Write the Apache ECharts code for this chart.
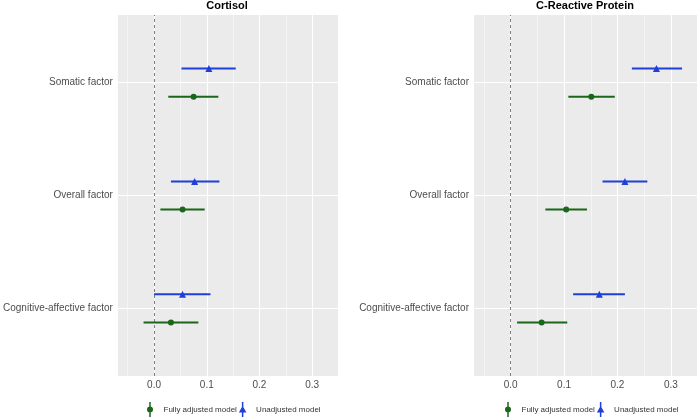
<!DOCTYPE html>
<html>
<head>
<meta charset="utf-8">
<script src="https://cdn.jsdelivr.net/npm/echarts@6/dist/echarts.min.js"></script>
<style>
  html, body { margin: 0; padding: 0; background: #ffffff; }
  #chart { width: 699px; height: 419px; }
</style>
</head>
<body>
<div id="chart"></div>
<script>
// factors, top to bottom
var factors = ['Somatic factor', 'Overall factor', 'Cognitive-affective factor'];
var xTicks = [0, 0.1, 0.2, 0.3];
var xMinor = [-0.05, 0.05, 0.15, 0.25];

// Cortisol
var cortAdjEst = [0.075, 0.054, 0.032];
var cortAdjLo = [0.027, 0.012, -0.020];
var cortAdjHi = [0.122, 0.096, 0.084];
var cortUnadjEst = [0.104, 0.077, 0.054];
var cortUnadjLo = [0.052, 0.032, 0.000];
var cortUnadjHi = [0.155, 0.124, 0.107];

// C-Reactive Protein
var crpAdjEst = [0.151, 0.104, 0.058];
var crpAdjLo = [0.108, 0.065, 0.012];
var crpAdjHi = [0.195, 0.143, 0.106];
var crpUnadjEst = [0.273, 0.214, 0.166];
var crpUnadjLo = [0.227, 0.172, 0.117];
var crpUnadjHi = [0.321, 0.256, 0.214];

var green = '#1b661b';
var blue = '#1f3fd8';
var dodge = 0.125;
var font = 'Liberation Sans, Arial, sans-serif';

function yPos(i){ return factors.length - 1 - i; }

function pointData(est, off){
  var out = [];
  for(var i=0;i<est.length;i++){
    out.push([est[i], yPos(i) + off]);
  }
  return out;
}

function barData(lo, hi, off){
  var out = [];
  for(var i=0;i<lo.length;i++){
    out.push([lo[i], hi[i], yPos(i) + off]);
  }
  return out;
}

function renderBar(params, api){
  var a = api.coord([api.value(0), api.value(2)]);
  var b = api.coord([api.value(1), api.value(2)]);
  return {
    type: 'line',
    shape: {x1: a[0], y1: a[1], x2: b[0], y2: b[1]},
    style: {stroke: api.visual('color'), lineWidth: 2}
  };
}

function gridLines(idx){
  var lines = [];
  for(var i=0;i<xMinor.length;i++){
    lines.push({xAxis: xMinor[i], lineStyle: {color: '#ffffff', width: 0.5, type: 'solid'}});
  }
  for(var i=0;i<xTicks.length;i++){
    lines.push({xAxis: xTicks[i], lineStyle: {color: '#ffffff', width: 1.1, type: 'solid'}});
  }
  for(var i=0;i<factors.length;i++){
    lines.push({yAxis: yPos(i), lineStyle: {color: '#ffffff', width: 1.1, type: 'solid'}});
  }
  return [
    {type: 'line', xAxisIndex: idx, yAxisIndex: idx, data: [], z: 1, silent: true,
      markLine: {z: 1, silent: true, symbol: 'none', label: {show: false}, animation: false, data: lines}},
    {type: 'line', xAxisIndex: idx, yAxisIndex: idx, data: [], z: 2, silent: true,
      markLine: {z: 2, silent: true, symbol: 'none', label: {show: false}, animation: false,
        data: [{xAxis: 0, lineStyle: {color: '#808080', width: 1, type: [3, 3]}}]}}
  ];
}

function panelSeries(idx, adjEst, adjLo, adjHi, unEst, unLo, unHi){
  var s = gridLines(idx);
  s.push({name: 'Fully adjusted model', type: 'custom', xAxisIndex: idx, yAxisIndex: idx, z: 3,
    itemStyle: {color: green}, renderItem: renderBar, encode: {x: [0, 1], y: 2},
    data: barData(adjLo, adjHi, -dodge)});
  s.push({name: 'Unadjusted model', type: 'custom', xAxisIndex: idx, yAxisIndex: idx, z: 3,
    itemStyle: {color: blue}, renderItem: renderBar, encode: {x: [0, 1], y: 2},
    data: barData(unLo, unHi, dodge)});
  s.push({name: 'Fully adjusted model', type: 'scatter', xAxisIndex: idx, yAxisIndex: idx, z: 4,
    symbol: 'circle', symbolSize: 6, itemStyle: {color: green, opacity: 1},
    data: pointData(adjEst, -dodge)});
  s.push({name: 'Unadjusted model', type: 'scatter', xAxisIndex: idx, yAxisIndex: idx, z: 4,
    symbol: 'triangle', symbolSize: 7, itemStyle: {color: blue, opacity: 1},
    data: pointData(unEst, dodge)});
  return s;
}

function xAxisFor(idx){
  return {
    type: 'value', gridIndex: idx, min: -0.0687, max: 0.349,
    axisLine: {show: false},
    splitLine: {show: false},
    axisTick: {show: true, customValues: xTicks, length: 3, lineStyle: {color: '#333333', width: 0.8}},
    axisLabel: {customValues: xTicks, margin: 4, color: '#4d4d4d', fontSize: 10, fontFamily: font,
      formatter: function(v){ return v.toFixed(1); }}
  };
}

function yAxisFor(idx){
  return {
    type: 'value', gridIndex: idx, min: -0.6, max: 2.6,
    axisLine: {show: false},
    splitLine: {show: false},
    axisTick: {show: true, customValues: [0, 1, 2], length: 3, lineStyle: {color: '#333333', width: 0.8}},
    axisLabel: {customValues: [0, 1, 2], margin: 5, color: '#4d4d4d', fontSize: 10, fontFamily: font,
      formatter: function(v){ return factors[factors.length - 1 - Math.round(v)]; }}
  };
}

var iconAdj = 'path://M4,0 L6,0 L6,20 L4,20 Z M5,6 A4,4 0 1 1 5,14 A4,4 0 1 1 5,6 Z';
var iconUn = 'path://M4,0 L6,0 L6,20 L4,20 Z M5,5 L10,14 L0,14 Z';

function legendFor(left){
  return {
    left: left, top: 402, width: 240, padding: 0, itemWidth: 17, itemHeight: 15, itemGap: 2,
    symbolKeepAspect: true,
    textStyle: {fontSize: 8, color: '#333333', fontFamily: font},
    data: [
      {name: 'Fully adjusted model', icon: iconAdj, itemStyle: {color: green}},
      {name: 'Unadjusted model', icon: iconUn, itemStyle: {color: blue}}
    ]
  };
}

var myChart = echarts.init(document.getElementById('chart'), null, {renderer: 'canvas'});
var option = {
  animation: false,
  backgroundColor: '#ffffff',
  title: [
    {text: 'Cortisol', left: 227, top: 0, padding: 0, textAlign: 'center',
      textStyle: {fontSize: 11, fontWeight: 'bold', color: '#000000', fontFamily: font}},
    {text: 'C-Reactive Protein', left: 585, top: 0, padding: 0, textAlign: 'center',
      textStyle: {fontSize: 11, fontWeight: 'bold', color: '#000000', fontFamily: font}}
  ],
  grid: [
    {left: 116, right: 361, top: 15, bottom: 43, show: true, backgroundColor: '#ebebeb', borderWidth: 0},
    {left: 474, right: 2, top: 15, bottom: 43, show: true, backgroundColor: '#ebebeb', borderWidth: 0}
  ],
  xAxis: [xAxisFor(0), xAxisFor(1)],
  yAxis: [yAxisFor(0), yAxisFor(1)],
  legend: [legendFor(147), legendFor(505)],
  series: panelSeries(0, cortAdjEst, cortAdjLo, cortAdjHi, cortUnadjEst, cortUnadjLo, cortUnadjHi)
    .concat(panelSeries(1, crpAdjEst, crpAdjLo, crpAdjHi, crpUnadjEst, crpUnadjLo, crpUnadjHi))
};
myChart.setOption(option);
</script>
</body>
</html>
